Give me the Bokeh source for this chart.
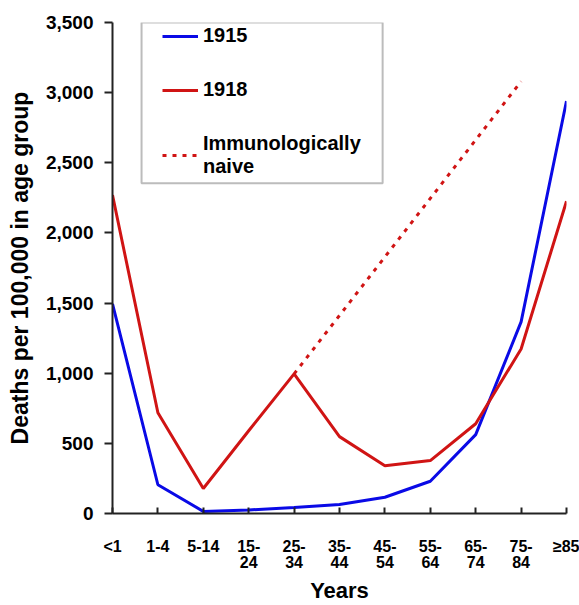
from bokeh.plotting import figure
from bokeh.models import (Range1d, FixedTicker, NumeralTickFormatter, Legend, LegendItem,
                          BoxAnnotation)
from bokeh.embed import file_html
from bokeh.resources import INLINE

# ---- data ----
age_groups = ["<1", "1-4", "5-14", "15-\n24", "25-\n34", "35-\n44", "45-\n54",
              "55-\n64", "65-\n74", "75-\n84", "\u226585"]
deaths_1915 = [1495, 205, 15, 25, 43, 64, 116, 230, 562, 1366, 2940]
deaths_1918 = [2270, 718, 178, 590, 995, 548, 341, 377, 640, 1173, 2226]
naive_groups = ["25-\n34", "75-\n84"]
naive_values = [995, 3080]
y_ticks = [0, 500, 1000, 1500, 2000, 2500, 3000, 3500]

xs = list(range(len(age_groups)))
naive_x = [age_groups.index(g) for g in naive_groups]

FONT = "Liberation Sans"
BLUE = "#0A0AE6"
RED = "#D01414"

p = figure(width=579, height=605, output_backend="svg", toolbar_location=None,
           x_range=Range1d(0, len(age_groups) - 1), y_range=Range1d(0, 3500),
           min_border_left=112, min_border_top=22, min_border_right=13, min_border_bottom=91)
p.outline_line_color = None
p.xgrid.visible = False
p.ygrid.visible = False
p.background_fill_color = "white"

r15 = p.line(xs, deaths_1915, line_color=BLUE, line_width=3)
r18 = p.line(xs, deaths_1918, line_color=RED, line_width=3)
rn = p.line(naive_x, naive_values, line_color=RED, line_width=3, line_dash="4 6")

# axes
for ax in (p.xaxis[0], p.yaxis[0]):
    ax.axis_line_color = "#222222"
    ax.axis_line_width = 2
    ax.major_tick_line_color = "#222222"
    ax.major_tick_line_width = 2
    ax.minor_tick_line_color = None
    ax.major_label_text_font = FONT
    ax.major_label_text_font_style = "bold"
    ax.major_label_text_color = "black"
    ax.axis_label_text_font = FONT
    ax.axis_label_text_font_style = "bold"
    ax.axis_label_text_color = "black"

xa = p.xaxis[0]
xa.ticker = FixedTicker(ticks=xs)
xa.major_label_overrides = {i: lab for i, lab in zip(xs, age_groups)}
xa.major_tick_in = 6
xa.major_tick_out = 0
xa.major_label_standoff = 24
xa.major_label_text_font_size = "16px"
xa.major_label_text_line_height = 0.95
xa.axis_label = "Years"
xa.axis_label_text_font_size = "22px"
xa.axis_label_standoff = 4

ya = p.yaxis[0]
ya.ticker = FixedTicker(ticks=y_ticks)
ya.formatter = NumeralTickFormatter(format="0,0")
ya.major_tick_in = 0
ya.major_tick_out = 8
ya.major_label_standoff = 11
ya.major_label_text_font_size = "19px"
ya.axis_label = "Deaths per 100,000 in age group"
ya.axis_label_text_font_size = "23px"
ya.axis_label_standoff = 10

# legend frame
box = BoxAnnotation(left=0.64, right=5.95, top=3500, bottom=2355,
                    fill_alpha=0, line_color="#222222", line_width=2)
p.add_layout(box)

legend = Legend(items=[LegendItem(label="1915", renderers=[r15]),
                       LegendItem(label="1918", renderers=[r18]),
                       LegendItem(label="Immunologically\nnaive", renderers=[rn])],
                location=(50, 335), padding=0, margin=0, spacing=31,
                glyph_width=36, glyph_height=20, label_height=20, label_standoff=5,
                label_text_font=FONT, label_text_font_style="bold",
                label_text_font_size="20px", label_text_color="black",
                border_line_alpha=0, background_fill_alpha=0)
p.add_layout(legend)

open("out.html", "w").write(file_html(p, INLINE))
